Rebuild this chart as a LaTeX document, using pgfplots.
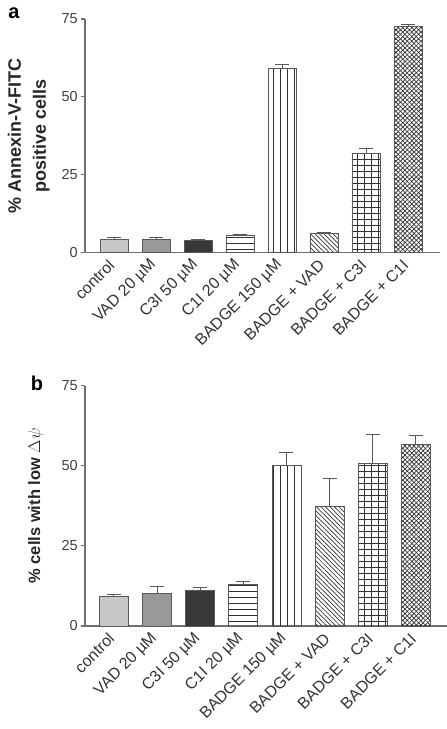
\documentclass[border=0pt]{standalone}
\usepackage{fontspec}
\setmainfont{Liberation Sans}
\usepackage{pgfplots}
\pgfplotsset{compat=1.18}
\usetikzlibrary{patterns.meta}
\definecolor{cA}{HTML}{C8C8C8}
\definecolor{cB}{HTML}{999999}
\definecolor{cC}{HTML}{383838}
\definecolor{ax}{HTML}{707070}
\definecolor{pl}{HTML}{303030}
\pgfplotsset{
  panel/.style={
    scale only axis,
    ybar, bar width=0.67,
    ymin=0, ymax=75, enlargelimits=false,
    ytick={0,25,50,75},
    xtick={0,...,7},
    xticklabels={control, VAD 20 µM, C3I 50 µM, C1I 20 µM, BADGE 150 µM, BADGE + VAD, BADGE + C3I, BADGE + C1I},
    axis x line=bottom, axis y line=left,
    axis line style={-, draw=ax, line width=1.1pt},
    tick align=outside, major tick length=4.5pt,
    ytick style={draw=ax, line width=1.1pt},
    xtick style={draw=none},
    /pgf/number format/assume math mode=true,
    yticklabel style={font=\fontsize{14.5}{15}\selectfont, text=black!75, inner sep=2.5pt},
    xticklabel style={font=\fontsize{16}{17}\selectfont, text=black!80, yshift=-3pt, rotate=45, anchor=east},
    every axis plot/.append style={bar shift=0pt, draw=black!65, line width=0.8pt,
      error bars/y dir=plus, error bars/y explicit,
      error bars/error bar style={draw=black!65, line width=0.9pt},
      error bars/error mark options={rotate=90, mark size=7pt, draw=black!65, line width=0.9pt}},
  },
  hl/.style={pattern={Lines[angle=0,distance=6pt,line width=0.8pt]}, pattern color=pl},
  vl/.style={pattern={Lines[angle=90,distance=7pt,line width=0.8pt]}, pattern color=pl},
  dl/.style={pattern={Lines[angle=-45,distance=3.2pt,line width=0.7pt]}, pattern color=pl},
  dr/.style={pattern={Lines[angle=45,distance=3.2pt,line width=0.7pt]}, pattern color=pl},
}
\begin{document}
\begin{tikzpicture}
\path[use as bounding box] (0,0) rectangle (447pt,729pt);
% panel a
\begin{axis}[panel, at={(85pt,476.3pt)}, anchor=south west,
  width=355pt, height=233.7pt, xmin=-0.69, xmax=7.76,
  ylabel={\% Annexin-V-FITC\\positive cells},
  ylabel style={at={(axis description cs:-0.09,0.5)}, rotate=0, anchor=south, align=center,
    font=\bfseries\fontsize{18}{25}\selectfont, text=black!85}]
\addplot[fill=cA] coordinates {(0,4.4) +- (0,0.4)};
\addplot[fill=cB] coordinates {(1,4.4) +- (0,0.4)};
\addplot[fill=cC] coordinates {(2,4.0) +- (0,0.2)};
\addplot[hl] coordinates {(3,5.6) +- (0,0.1)};
\addplot[vl] coordinates {(4,59.1) +- (0,1.3)};
\addplot[dl] coordinates {(5,6.2) +- (0,0.3)};
\addplot[hl] coordinates {(6,31.9) +- (0,1.7)};
\addplot[vl] coordinates {(6,31.9) +- (0,0)};
\addplot[dl] coordinates {(7,72.7) +- (0,0.5)};
\addplot[dr] coordinates {(7,72.7) +- (0,0)};
\end{axis}
% panel b
\begin{axis}[panel, at={(85pt,103pt)}, anchor=south west,
  width=362pt, height=240.3pt, xmin=-0.67, xmax=7.72,
  ylabel={\% cells with low {\mdseries$\Delta\psi$}},
  ylabel style={at={(axis description cs:-0.105,0.5)}, rotate=0, anchor=south,
    font=\bfseries\fontsize{16.5}{18}\selectfont, text=black!85}]
\addplot[fill=cA] coordinates {(0,9.26) +- (0,0.7)};
\addplot[fill=cB] coordinates {(1,10.2) +- (0,2.3)};
\addplot[fill=cC] coordinates {(2,11.0) +- (0,1.0)};
\addplot[hl] coordinates {(3,13.0) +- (0,0.8)};
\addplot[vl] coordinates {(4,50.0) +- (0,4.2)};
\addplot[dl] coordinates {(5,37.25) +- (0,8.75)};
\addplot[hl] coordinates {(6,50.6) +- (0,9.2)};
\addplot[vl] coordinates {(6,50.6) +- (0,0)};
\addplot[dl] coordinates {(7,56.8) +- (0,2.8)};
\addplot[dr] coordinates {(7,56.8) +- (0,0)};
\end{axis}
\node[font=\bfseries\fontsize{20}{20}\selectfont] at (14pt,716pt) {a};
\node[font=\bfseries\fontsize{20}{20}\selectfont] at (37pt,346pt) {b};
\end{tikzpicture}
\end{document}
